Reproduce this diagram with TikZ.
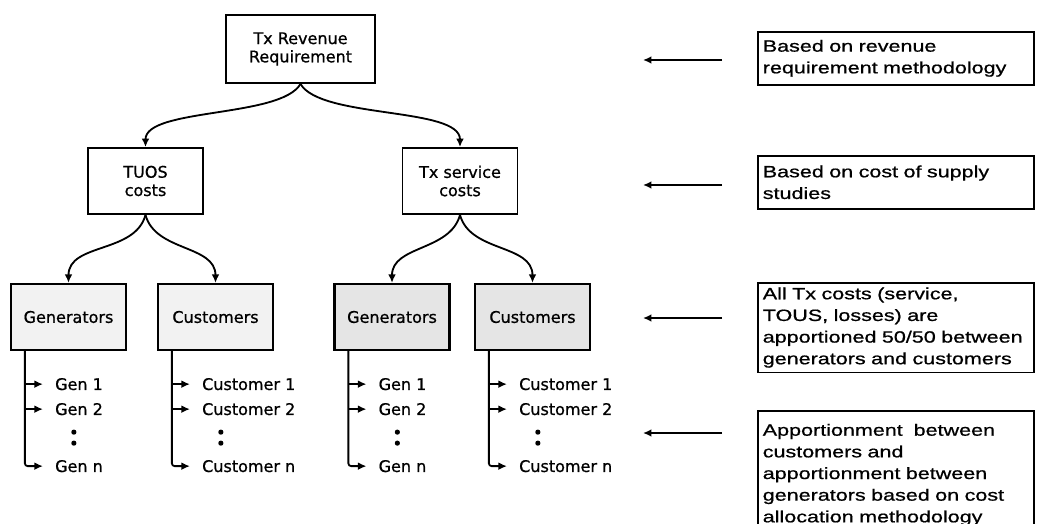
\documentclass[tikz,border=0pt]{standalone}
\usepackage{fontspec}
\setmainfont[FakeBold=0.8]{DejaVu Sans}
\newfontfamily\notefont[FakeStretch=1.32, FakeBold=0.8]{Liberation Sans}
\usetikzlibrary{arrows.meta, positioning, calc}

\tikzset{
  box/.style={draw, line width=1.3pt, align=center, minimum width=2.875cm, minimum height=1.65cm, font=\fontsize{11.4}{13}\selectfont},
  party/.style={box, line width=1.6pt, fill=gray!10},
  note/.style={draw, line width=1.1pt, align=left, text width=6.65cm, inner xsep=0.125cm, anchor=north west, font=\notefont\fontsize{11.6}{15.4}\selectfont},
  tip/.style={-{Latex[length=6pt,width=5.5pt]}, line width=1.3pt},
  item/.style={anchor=west, inner sep=0pt, font=\fontsize{11.4}{13}\selectfont},
}

\begin{document}
\begin{tikzpicture}[x=0.025cm, y=-0.025cm]
    \useasboundingbox (0,0) rectangle (1037,524);
    % cost tree
    \node[box, minimum width=3.725cm, minimum height=1.7cm] (rev) at (300.5,49) {Tx Revenue\\Requirement};
    \node[box] (tuos) at (145.5,181) {TUOS\\costs};
    \node[box] (serv) at (460,181) {Tx service\\costs};
    \node[party] (gen1) at (68.5,317) {Generators};
    \node[party] (cust1) at (215.5,317) {Customers};
    \node[party, fill=gray!20] (gen2) at (392,317) {Generators};
    \node[party, fill=gray!20] (cust2) at (532.5,317) {Customers};
    \draw[tip] (rev.south) to[out=-120, in=90, looseness=0.6] (tuos.north);
    \draw[tip] (rev.south) to[out=-60, in=90, looseness=0.6] (serv.north);
    \draw[tip] (tuos.south) to[out=-105, in=90] (gen1.north);
    \draw[tip] (tuos.south) to[out=-75, in=90] (cust1.north);
    \draw[tip] (serv.south) to[out=-105, in=90] (gen2.north);
    \draw[tip] (serv.south) to[out=-75, in=90] (cust2.north);
    % members
    \foreach \b/\t in {gen1/Gen, cust1/Customer, gen2/Gen, cust2/Customer}{
        \coordinate (\b-r) at ($(\b.south west)+(15,0)$);
        \node[item] (\b-1) at ($(\b-r)+(30,33)$) {\t\ 1};
        \node[item] (\b-2) at ($(\b-r)+(30,58)$) {\t\ 2};
        \node[item] (\b-n) at ($(\b-r)+(30,115)$) {\t\ n};
        \fill ($(\b-r)+(49,81)$) circle (2.6) ($(\b-r)+(49,92)$) circle (2.6);
        \draw[tip, rounded corners=2pt, shorten >=8.5pt] (\b-r) |- (\b-n.west);
        \draw[tip, shorten >=8.5pt] (\b-r |- \b-1.west) -- (\b-1.west);
        \draw[tip, shorten >=8.5pt] (\b-r |- \b-2.west) -- (\b-2.west);
    }
    % notes
    \node[note, minimum height=1.325cm] (n1) at (757,31) {Based on revenue\\requirement methodology};
    \node[note, minimum height=1.325cm] (n2) at (757,155) {Based on cost of supply\\studies};
    \node[note, minimum height=2.125cm] (n3) at (757,282) {All Tx costs (service,\\TOUS, losses) are\\apportioned 50/50 between\\generators and customers};
    \node[note, minimum height=3.2cm] (n4) at (757,410) {Apportionment\ \ between\\customers and\\apportionment between\\generators based on cost\\allocation methodology};
    \foreach \y [count=\i] in {60,185,318,433}{
        \coordinate (a\i) at (722,\y);
        \coordinate (b\i) at (643,\y);
        \draw[tip] (a\i) -- (b\i);
    }
\end{tikzpicture}
\end{document}
